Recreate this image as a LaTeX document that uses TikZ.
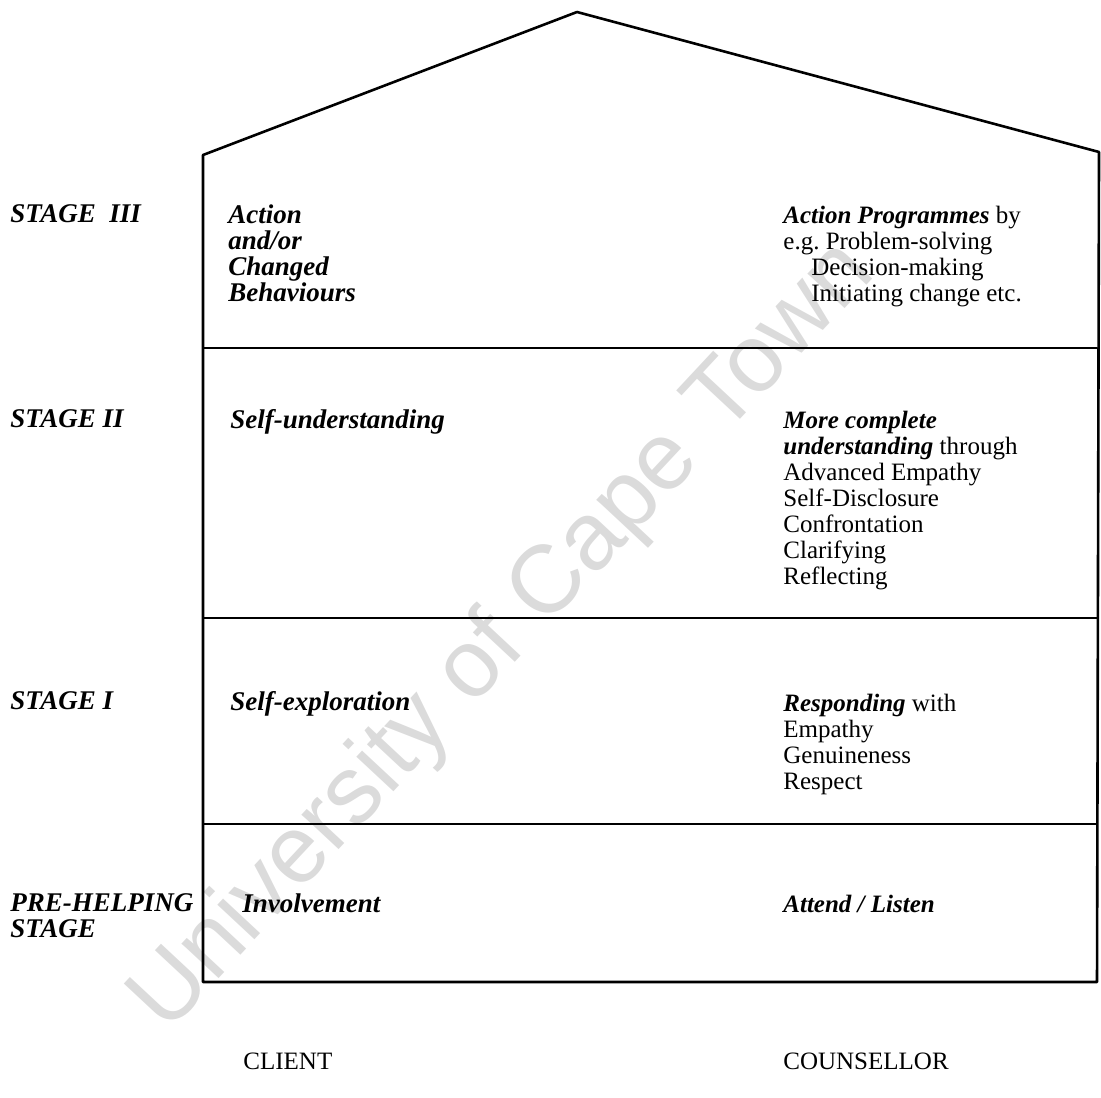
\documentclass[tikz,border=0pt]{standalone}
\usepackage{fontspec}
\setmainfont{Liberation Serif}
\setsansfont{Liberation Sans}
\begin{document}
\begin{tikzpicture}[x=0.5pt, y=-0.5pt,
    wall/.style={black, line width=1.3pt, line join=round},
    lbl/.style={anchor=north west, inner sep=0pt, align=left,
        font=\fontsize{12.5}{13}\selectfont},
    side/.style={lbl, font=\fontsize{13.5}{13}\selectfont\bfseries\itshape},
    stamp/.style={anchor=base, rotate=47, inner sep=0pt, text=black!14,
        font=\sffamily\fontsize{48}{48}\selectfont}]
    \useasboundingbox (0,0) rectangle (1101,1097);
    % watermark
    \node[stamp] (stampuni) at (311,880) {University};
    \node[stamp] (stampof) at (500,678) {of};
    \node[stamp] (stampcape) at (624,545) {Cape};
    \node[stamp] (stamptown) at (800,356) {Town};
    % house
    \draw[wall] (203,982) -- (203,155) -- (577,12) -- (1099,152) -- (1097,982) -- cycle;
    \draw[wall] (203,348) -- (1097,348);
    \draw[wall] (203,618) -- (1097,618);
    \draw[wall] (203,824) -- (1097,824);
    % stages
    \node[side] (stagethree) at (10,204) {STAGE\ \ III};
    \node[side] (stagetwo) at (10,409) {STAGE II};
    \node[side] (stageone) at (10,691) {STAGE I};
    \node[side] (stagepre) at (10,893) {PRE-HELPING\\STAGE};
    % client side
    \node[side] (clientthree) at (228,204) {Action\\and/or\\Changed\\Behaviours};
    \node[side] (clienttwo) at (230,409) {Self-understanding};
    \node[side] (clientone) at (230,691) {Self-exploration};
    \node[side] (clientpre) at (242,893) {Involvement};
    % counsellor side
    \node[lbl] (counsthree) at (783,206) {\textbf{\textit{Action Programmes}} by\\e.g.\ Problem-solving\\\hspace*{14pt}Decision-making\\\hspace*{14pt}Initiating change etc.};
    \node[lbl] (counstwo) at (783,411) {\textbf{\textit{More complete}}\\\textbf{\textit{understanding}} through\\Advanced Empathy\\Self-Disclosure\\Confrontation\\Clarifying\\Reflecting};
    \node[lbl] (counsone) at (783,694) {\textbf{\textit{Responding}} with\\Empathy\\Genuineness\\Respect};
    \node[lbl] (counspre) at (783,895) {\textbf{\textit{Attend / Listen}}};
    % columns
    \node[lbl] (client) at (243,1053) {CLIENT};
    \node[lbl] (counsellor) at (783,1053) {COUNSELLOR};
\end{tikzpicture}
\end{document}
